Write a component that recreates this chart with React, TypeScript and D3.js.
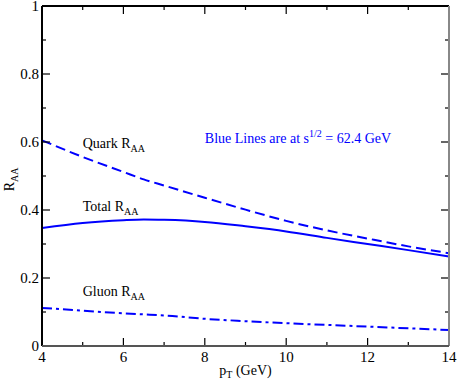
import { useEffect, useRef } from 'react';
import * as d3 from 'd3';

// pT values (GeV) and R_AA curves
const pT = [4, 5, 6, 6.5, 7, 8, 9, 10, 11, 12, 13, 14];
const quarkRAA = [0.605, 0.556, 0.512, 0.49, 0.472, 0.436, 0.401, 0.368, 0.34, 0.316, 0.293, 0.273];
const totalRAA = [0.347, 0.362, 0.37, 0.372, 0.371, 0.365, 0.352, 0.337, 0.318, 0.3, 0.282, 0.263];
const gluonRAA = [0.112, 0.104, 0.096, 0.093, 0.09, 0.08, 0.073, 0.067, 0.062, 0.057, 0.052, 0.047];

const xMajor = [4, 6, 8, 10, 12, 14];
const xMinor = [5, 7, 9, 11, 13];
const yMajor = [0, 0.2, 0.4, 0.6, 0.8, 1];
const yMinor = [0.1, 0.3, 0.5, 0.7, 0.9];

const labels = [
    { name: 'Quark', pt: 5.0, r: 0.582 },
    { name: 'Total', pt: 5.0, r: 0.397 },
    { name: 'Gluon', pt: 5.0, r: 0.148 },
];

const App = () => {
    const svgRef = useRef(null);

    useEffect(() => {
        const svg = d3.select(svgRef.current);
        svg.selectAll('*').remove();

        const margin = { top: 6, right: 8, bottom: 36, left: 42 };
        const width = 457 - margin.left - margin.right;
        const height = 382 - margin.top - margin.bottom;
        const font = "'Liberation Serif', Times, serif";
        const blue = '#0000ff';

        svg.attr('font-family', font);

        const g = svg.append('g')
            .attr('transform', `translate(${margin.left},${margin.top})`);

        const x = d3.scaleLinear().domain([4, 14]).range([0, width]);
        const y = d3.scaleLinear().domain([0, 1]).range([height, 0]);

        // Curves
        const line = (vals) => d3.line()
            .x((d, i) => x(pT[i]))
            .y(d => y(d))
            .curve(d3.curveMonotoneX)(vals);

        g.append('path').attr('d', line(quarkRAA))
            .attr('fill', 'none').attr('stroke', blue).attr('stroke-width', 2)
            .attr('stroke-dasharray', '10 5');
        g.append('path').attr('d', line(totalRAA))
            .attr('fill', 'none').attr('stroke', blue).attr('stroke-width', 2);
        g.append('path').attr('d', line(gluonRAA))
            .attr('fill', 'none').attr('stroke', blue).attr('stroke-width', 2)
            .attr('stroke-dasharray', '10 4 3 4');

        // Ticks on all four sides, pointing inward
        const ticks = g.append('g').attr('stroke', '#000').attr('stroke-width', 1.2);
        xMajor.concat(xMinor).forEach(v => {
            const len = xMajor.includes(v) ? 8 : 4;
            ticks.append('line').attr('x1', x(v)).attr('x2', x(v)).attr('y1', height).attr('y2', height - len);
            ticks.append('line').attr('x1', x(v)).attr('x2', x(v)).attr('y1', 0).attr('y2', len);
        });
        yMajor.concat(yMinor).forEach(v => {
            const len = yMajor.includes(v) ? 8 : 4;
            ticks.append('line').attr('x1', 0).attr('x2', len).attr('y1', y(v)).attr('y2', y(v));
            ticks.append('line').attr('x1', width).attr('x2', width - len).attr('y1', y(v)).attr('y2', y(v));
        });

        // Frame
        g.append('line').attr('x1', 0).attr('x2', width).attr('y1', 0).attr('y2', 0)
            .attr('stroke', '#000').attr('stroke-width', 2);
        g.append('line').attr('x1', 0).attr('x2', 0).attr('y1', 0).attr('y2', height)
            .attr('stroke', '#000').attr('stroke-width', 2);
        g.append('line').attr('x1', width).attr('x2', width).attr('y1', 0).attr('y2', height)
            .attr('stroke', '#888').attr('stroke-width', 2);
        g.append('line').attr('x1', 0).attr('x2', width).attr('y1', height).attr('y2', height)
            .attr('stroke', '#555').attr('stroke-width', 2);

        // Tick labels
        g.selectAll('.xl').data(xMajor).enter().append('text')
            .attr('x', d => x(d)).attr('y', height + 16)
            .attr('text-anchor', 'middle')
            .attr('font-size', 15)
            .text(d => d);
        g.selectAll('.yl').data(yMajor).enter().append('text')
            .attr('x', -3).attr('y', d => y(d) + 5)
            .attr('text-anchor', 'end')
            .attr('font-size', 15)
            .text(d => d === 0 || d === 1 ? d : d.toFixed(1));

        // Axis titles
        const xt = g.append('text')
            .attr('x', width / 2).attr('y', height + 29)
            .attr('text-anchor', 'middle')
            .attr('font-size', 14);
        xt.append('tspan').text('p');
        xt.append('tspan').attr('dy', 3).attr('font-size', 10).text('T');
        xt.append('tspan').attr('dy', -3).text(' (GeV)');

        const yt = g.append('text')
            .attr('transform', `translate(${-28},${y(0.49)}) rotate(-90)`)
            .attr('text-anchor', 'middle')
            .attr('font-size', 14);
        yt.append('tspan').text('R');
        yt.append('tspan').attr('dy', 4).attr('font-size', 10).text('AA');

        // Curve labels
        labels.forEach(l => {
            const t = g.append('text')
                .attr('x', x(l.pt)).attr('y', y(l.r))
                .attr('font-size', 14);
            t.append('tspan').text(`${l.name} R`);
            t.append('tspan').attr('dy', 4).attr('font-size', 10).text('AA');
        });

        const note = g.append('text')
            .attr('x', x(8.0)).attr('y', y(0.597))
            .attr('fill', blue)
            .attr('font-size', 14);
        note.append('tspan').text('Blue Lines are at s');
        note.append('tspan').attr('dy', -6).attr('font-size', 10).text('1/2');
        note.append('tspan').attr('dy', 6).text(' = 62.4 GeV');
    }, []);

    return (
        <svg ref={svgRef} width={457} height={382}
            style={{ position: 'absolute', left: 0, top: 0, background: '#fff' }} />
    );
};

export default App;
